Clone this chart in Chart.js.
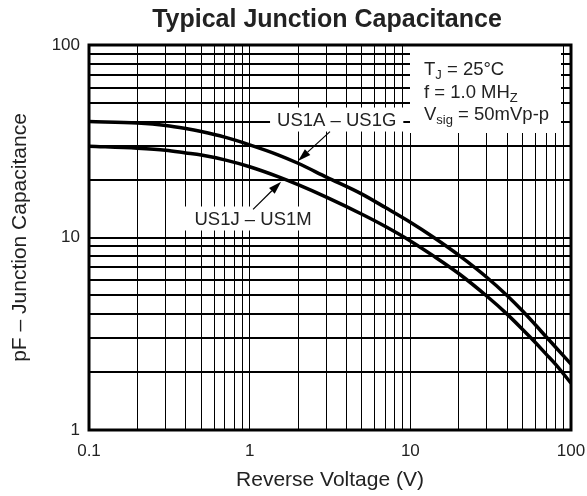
<!DOCTYPE html>
<html>
<head>
<meta charset="utf-8">
<script src="https://cdn.jsdelivr.net/npm/chart.js@4.4.1/dist/chart.umd.min.js"></script>
<style>
  html, body { margin: 0; padding: 0; background: #fff; }
  #wrap { position: relative; width: 587px; height: 496px; }
</style>
</head>
<body>
<div id="wrap"><canvas id="capChart"></canvas></div>
<script>
const voltage = [0.1, 0.2, 0.3, 0.4, 0.5, 0.7, 1, 1.5, 2, 3, 5, 7, 10, 14, 20, 30, 40, 50, 60, 70, 80, 100];
// junction capacitance (pF)
const capUS1A_G = [40, 39.3, 38.2, 36.8, 35.5, 33.2, 30.3, 26.9, 24.3, 20.6, 16.8, 14.3, 12.0, 10.0, 8.1, 6.2, 5.0, 4.15, 3.52, 3.05, 2.7, 2.2];
const capUS1J_M = [29.8, 29.1, 28.4, 27.5, 26.8, 25.3, 23.3, 20.7, 18.8, 16.2, 13.2, 11.4, 9.6, 8.0, 6.5, 4.95, 4.0, 3.33, 2.85, 2.48, 2.2, 1.75];

const seriesNames = ["US1A – US1G", "US1J – US1M"];

// log paper grid
const xGrid = [0.1, 0.2, 0.3, 0.4, 0.5, 0.6, 0.7, 0.8, 0.9, 1, 2, 3, 4, 5, 6, 7, 8, 9, 10, 20, 30, 40, 50, 60, 70, 80, 90, 100];
const yGrid = [1, 2, 3, 4, 5, 6, 7, 8, 9, 10, 20, 30, 40, 50, 60, 70, 80, 90, 100];
const xTickLabels = ["0.1", "1", "10", "100"];
const yTickLabels = ["1", "10", "100"];

// where the curve names and their arrows sit (data units)
const labelAt = [{ x: 3.48, y: 41 }, { x: 1.05, y: 12.55 }];
const arrowFrom = [{ x: 3.16, y: 35.5 }, { x: 1.05, y: 14.0 }];
const arrowTo = [{ x: 2.0, y: 25.0 }, { x: 1.57, y: 19.5 }];

const conditionLines = [
    [{ t: "T" }, { t: "J", sub: true }, { t: " = 25°C" }],
    [{ t: "f = 1.0 MH" }, { t: "Z", sub: true }],
    [{ t: "V" }, { t: "sig", sub: true }, { t: " = 50mVp-p" }]
];

const FONT = "'Liberation Sans', Arial, sans-serif";
const INK = "#222";

function toPoints(xs, ys) {
    return xs.map((v, i) => ({ x: v, y: ys[i] }));
}

function drawParts(ctx, parts, x, y) {
    for (const p of parts) {
        ctx.font = (p.sub ? "13px " : "18.5px ") + FONT;
        ctx.fillText(p.t, x, p.sub ? y + 4 : y);
        x += ctx.measureText(p.t).width;
    }
}

function arrow(ctx, x1, y1, x2, y2) {
    const ang = Math.atan2(y2 - y1, x2 - x1);
    const len = 13, half = 4;
    ctx.beginPath();
    ctx.moveTo(x1, y1);
    ctx.lineTo(x2 - Math.cos(ang) * len, y2 - Math.sin(ang) * len);
    ctx.stroke();
    ctx.beginPath();
    ctx.moveTo(x2, y2);
    ctx.lineTo(x2 - Math.cos(ang) * len + Math.sin(ang) * half, y2 - Math.sin(ang) * len - Math.cos(ang) * half);
    ctx.lineTo(x2 - Math.cos(ang) * len - Math.sin(ang) * half, y2 - Math.sin(ang) * len + Math.cos(ang) * half);
    ctx.closePath();
    ctx.fill();
}

const paperExtras = {
    id: 'paperExtras',
    beforeDatasetsDraw(chart) {
        const { ctx, chartArea: { right, top }, scales: { x, y } } = chart;
        ctx.save();
        ctx.fillStyle = '#fff';
        ctx.font = "18.5px " + FONT;
        // white patches behind the curve names
        const padX = [7, 12];
        seriesNames.forEach((name, i) => {
            const cx = x.getPixelForValue(labelAt[i].x);
            const cy = y.getPixelForValue(labelAt[i].y);
            const w = ctx.measureText(name).width;
            ctx.fillRect(cx - w / 2 - padX[i], cy - 12, w + padX[i] * 2, 24);
        });
        // conditions box
        ctx.fillRect(right - 161, top, 151, 88);
        ctx.restore();
    },
    afterDatasetsDraw(chart) {
        const { ctx, chartArea: { left, right, top, bottom }, scales: { x, y } } = chart;
        ctx.save();
        ctx.strokeStyle = '#000';
        ctx.lineWidth = 3;
        ctx.strokeRect(left, top, right - left, bottom - top);

        ctx.fillStyle = INK;
        ctx.textAlign = 'center';
        ctx.textBaseline = 'alphabetic';
        ctx.font = "18.5px " + FONT;
        seriesNames.forEach((name, i) => {
            ctx.fillText(name, x.getPixelForValue(labelAt[i].x), y.getPixelForValue(labelAt[i].y) + 6.6);
        });

        ctx.strokeStyle = '#000';
        ctx.fillStyle = '#000';
        ctx.lineWidth = 1.2;
        for (let i = 0; i < arrowFrom.length; i++) {
            arrow(ctx,
                x.getPixelForValue(arrowFrom[i].x), y.getPixelForValue(arrowFrom[i].y),
                x.getPixelForValue(arrowTo[i].x), y.getPixelForValue(arrowTo[i].y));
        }

        ctx.fillStyle = INK;
        ctx.textAlign = 'left';
        const bx = right - 147;
        conditionLines.forEach((parts, i) => {
            drawParts(ctx, parts, bx, top + 30 + i * 22.5);
        });

        // title
        ctx.textAlign = 'center';
        ctx.font = "bold 25px " + FONT;
        ctx.fillText("Typical Junction Capacitance", 327, 27);
        ctx.restore();
    }
};

const data = {
    datasets: [
        {
            label: seriesNames[0],
            data: toPoints(voltage, capUS1A_G),
            borderColor: '#000',
            borderWidth: 3.5,
            pointRadius: 0,
            cubicInterpolationMode: 'monotone',
            fill: false
        },
        {
            label: seriesNames[1],
            data: toPoints(voltage, capUS1J_M),
            borderColor: '#000',
            borderWidth: 3.5,
            pointRadius: 0,
            cubicInterpolationMode: 'monotone',
            fill: false
        }
    ]
};

const config = {
    type: 'line',
    data,
    options: {
        responsive: true,
        maintainAspectRatio: false,
        animation: false,
        layout: { padding: { top: 45, right: 16, left: 0, bottom: 0 } },
        plugins: {
            legend: { display: false },
            tooltip: { enabled: false }
        },
        scales: {
            x: {
                type: 'logarithmic',
                min: 0.1,
                max: 100,
                afterBuildTicks(scale) {
                    scale.ticks = xGrid.map(v => ({ value: v }));
                },
                afterFit(scale) {
                    scale.height = 66;
                    scale.paddingLeft = 0;
                    scale.paddingRight = 0;
                },
                grid: { color: '#000', lineWidth: 1, drawTicks: false },
                border: { display: false },
                ticks: {
                    autoSkip: false,
                    maxRotation: 0,
                    padding: 11,
                    color: INK,
                    font: { family: FONT, size: 17 },
                    callback(value) {
                        const s = String(value);
                        return xTickLabels.includes(s) ? s : '';
                    }
                },
                title: {
                    display: true,
                    text: 'Reverse Voltage (V)',
                    color: INK,
                    font: { family: FONT, size: 21 },
                    padding: { top: 0, bottom: 3 }
                }
            },
            y: {
                type: 'logarithmic',
                min: 1,
                max: 100,
                afterBuildTicks(scale) {
                    scale.ticks = yGrid.map(v => ({ value: v }));
                },
                afterFit(scale) {
                    scale.width = 89;
                },
                grid: { color: '#000', lineWidth: 2, drawTicks: false },
                border: { display: false },
                ticks: {
                    autoSkip: false,
                    padding: 9,
                    color: INK,
                    font: { family: FONT, size: 17 },
                    callback(value) {
                        const s = String(value);
                        return yTickLabels.includes(s) ? s : '';
                    }
                },
                title: {
                    display: true,
                    text: 'pF – Junction Capacitance',
                    color: INK,
                    font: { family: FONT, size: 21 },
                    padding: { top: 8, bottom: 0 }
                }
            }
        }
    },
    plugins: [paperExtras]
};

const capChart = new Chart(document.getElementById('capChart'), config);
</script>
</body>
</html>
